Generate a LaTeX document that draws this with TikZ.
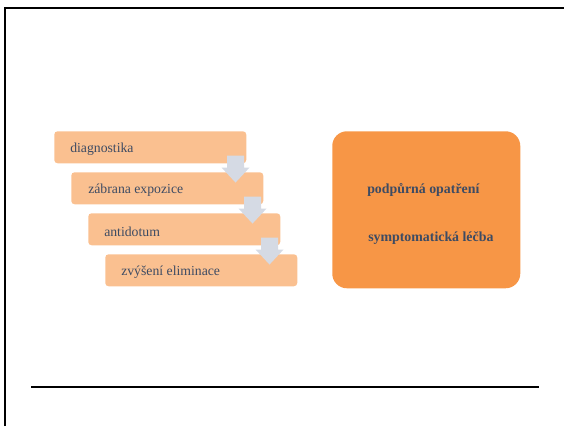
\documentclass[tikz,border=0pt]{standalone}
\usepackage{fontspec}
\setmainfont{Liberation Serif}
\usetikzlibrary{calc}
\definecolor{stepfill}{HTML}{FAC090}
\definecolor{mainfill}{HTML}{F79646}
\definecolor{arrowfill}{HTML}{D5DAE4}
\definecolor{txt}{HTML}{3D4B63}
\tikzset{
  stepbox/.style={fill=stepfill, rounded corners=2.5pt, minimum width=192*0.75pt,
    minimum height=32*0.75pt, text=txt, font=\fontsize{10}{12}\selectfont,
    anchor=north west, inner sep=0pt},
  steplabel/.style={text=txt, font=\fontsize{10.3}{12}\selectfont, anchor=west, inner sep=0pt},
  mainlabel/.style={text=txt, font=\fontsize{10.4}{12}\selectfont\bfseries, anchor=west, inner sep=0pt}
}
\begin{document}
\begin{tikzpicture}[x=0.75pt, y=-0.75pt]
        \useasboundingbox (0,0) rectangle (564,426);
        % frame
        \draw[line width=1.6pt] (5,426) -- (5,8) -- (566,8);
        \draw[line width=0.8pt] (31,387) -- (539,387);

        % steps
        \node[stepbox] (d1) at (54,131) {};
        \node[stepbox] (d2) at (71,172) {};
        \node[stepbox] (d3) at (88,213) {};
        \node[stepbox] (d4) at (105,254) {};
        \node[steplabel] (t1) at (70,149.5)  {diagnostika};
        \node[steplabel] (t2) at (88,190.5)  {zábrana expozice};
        \node[steplabel] (t3) at (104,231.5) {antidotum};
        \node[steplabel] (t4) at (121,272.5) {zvýšení eliminace};

        % arrows between steps
        \foreach \a in {d1, d2, d3}
          \fill[arrowfill] ($(\a.south east)+(-19.5,-8)$) -- ++(17,0) -- ++(0,12) -- ++(5.5,0)
            -- ++(-14,15) -- ++(-14,-15) -- ++(5.5,0) -- cycle;

        % right box
        \node[fill=mainfill, rounded corners=11pt, minimum width=188*0.75pt,
          minimum height=157*0.75pt, anchor=north west, inner sep=0pt] (m) at (332,131) {};
        \node[mainlabel] (m1) at (367,190) {podpůrná opatření};
        \node[mainlabel] (m2) at (368,238) {symptomatická léčba};
      \end{tikzpicture}
\end{document}
